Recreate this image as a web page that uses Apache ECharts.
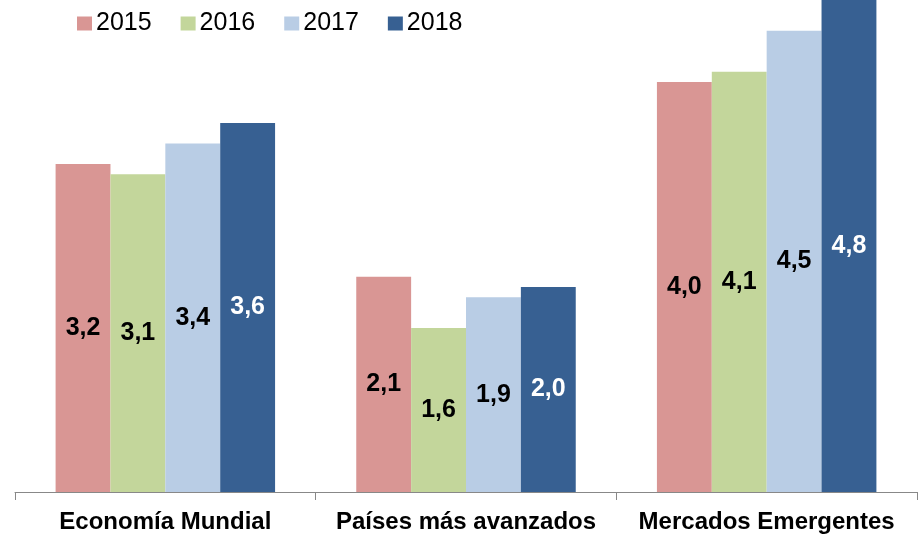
<!DOCTYPE html>
<html><head><meta charset="utf-8">
<script src="https://cdn.jsdelivr.net/npm/echarts@6/dist/echarts.min.js"></script>
<style>html,body{margin:0;padding:0;background:#fff}#c{width:918px;height:536px}</style>
</head><body><div id="c"></div>
<script>
const categories = ['Economía Mundial', 'Países más avanzados', 'Mercados Emergentes'];
const years = ['2015', '2016', '2017', '2018'];
const v2015 = [3.2, 2.1, 4.0];
const v2016 = [3.1, 1.6, 4.1];
const v2017 = [3.4, 1.9, 4.5];
const v2018 = [3.6, 2.0, 4.8];
const colors = ['#D99694', '#C3D69B', '#B9CDE5', '#376092'];
const labelColors = ['#000', '#000', '#000', '#fff'];
const values = [v2015, v2016, v2017, v2018];

const chart = echarts.init(document.getElementById('c'));
chart.setOption({
  animation: false,
  legend: {
    top: 6, left: 72, itemWidth: 15, itemHeight: 14, itemGap: 29,
    icon: 'rect',
    textStyle: {fontFamily: 'Liberation Sans, Arial', fontSize: 25, color: '#000', padding: [0,0,0,-1]},
    data: years
  },
  grid: {left: 15, right: 1, top: 0, bottom: 44},
  xAxis: {
    type: 'category', data: categories,
    axisLine: {lineStyle: {color: '#888', width: 1}},
    axisTick: {show: true, interval: 0, length: 8, alignWithLabel: false, lineStyle: {color: '#888', width: 1}},
    axisLabel: {interval: 0, hideOverlap: false, margin: 18, fontFamily: 'Liberation Sans, Arial', fontWeight: 'bold', fontSize: 24, color: '#000'}
  },
  yAxis: {type: 'value', min: 0, max: 4.8, show: false, splitLine: {show: false}},
  series: years.map((y, i) => ({
    name: y, type: 'bar', data: values[i],
    barGap: '0%', barCategoryGap: '27%',
    itemStyle: {color: colors[i]},
    label: {
      show: true, position: 'inside',
      formatter: p => p.value.toFixed(1).replace('.', ','),
      fontFamily: 'Liberation Sans, Arial', fontWeight: 'bold', fontSize: 25,
      color: labelColors[i]
    }
  }))
});
</script></body></html>
